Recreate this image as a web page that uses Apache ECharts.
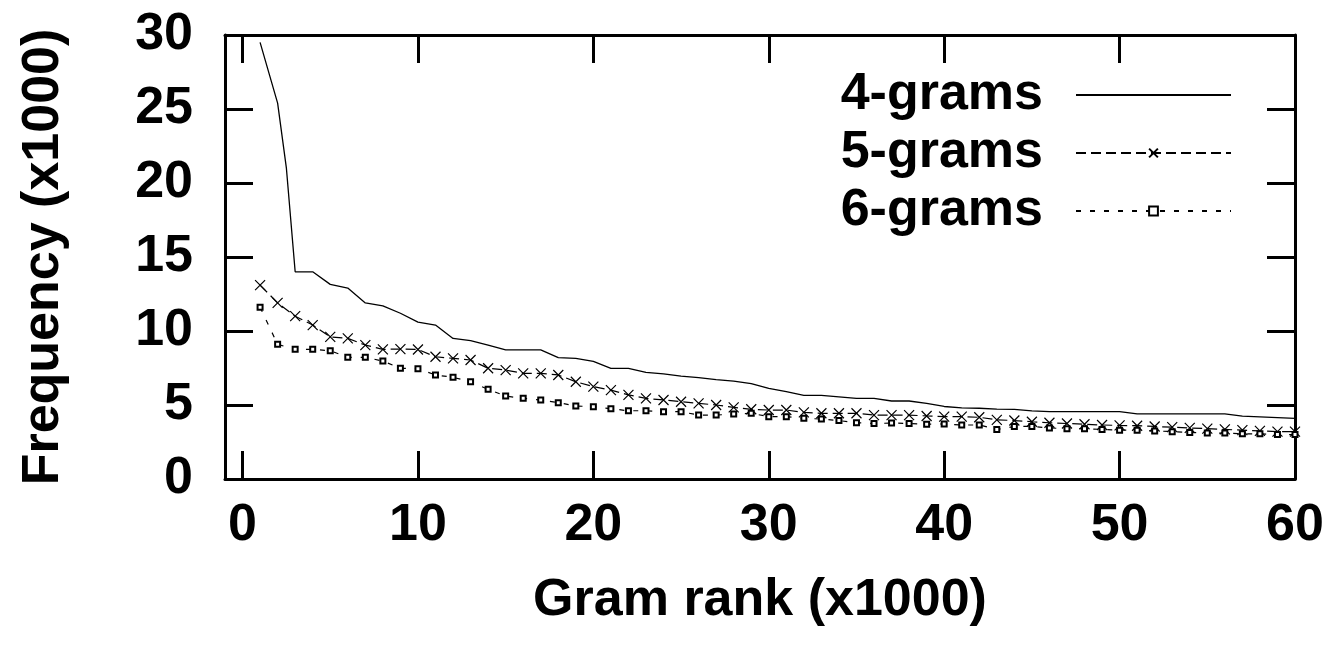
<!DOCTYPE html>
<html>
<head>
<meta charset="utf-8">
<script src="https://cdn.jsdelivr.net/npm/echarts@6/dist/echarts.min.js"></script>
<style>
html,body{margin:0;padding:0;background:#fff;}
#c{width:1335px;height:660px;}
</style>
</head>
<body>
<div id="c"></div>
<script>
// Data (Gram rank in thousands, frequency in thousands)
var seriesNames = ['4-grams', '5-grams', '6-grams'];
var xTicks = [0, 10, 20, 30, 40, 50, 60];
var yTicks = [0, 5, 10, 15, 20, 25, 30];

var rank4 = [1, 2, 2.5, 3, 4, 5, 6, 7, 8, 9, 10, 11, 12, 13, 14, 15, 16, 17, 18, 19, 20,
  21, 22, 23, 24, 25, 26, 27, 28, 29, 30, 31, 32, 33, 34, 35, 36, 37, 38, 39, 40,
  41, 42, 43, 44, 45, 46, 47, 48, 49, 50, 51, 52, 53, 54, 55, 56, 57, 58, 59, 60];
var freq4 = [29.5, 25.4, 21.0, 14.0, 14.0, 13.15, 12.9, 11.9, 11.7, 11.2, 10.6, 10.4, 9.5, 9.35, 9.05, 8.72, 8.72, 8.72, 8.2, 8.15, 7.95,
  7.48, 7.48, 7.2, 7.1, 6.95, 6.85, 6.72, 6.62, 6.45, 6.13, 5.9, 5.65, 5.65, 5.55, 5.45, 5.45, 5.27, 5.27, 5.11, 4.9,
  4.8, 4.78, 4.72, 4.7, 4.6, 4.55, 4.55, 4.55, 4.55, 4.55, 4.4, 4.4, 4.4, 4.4, 4.4, 4.4, 4.25, 4.2, 4.15, 4.1];

var rank56 = [1, 2, 3, 4, 5, 6, 7, 8, 9, 10, 11, 12, 13, 14, 15, 16, 17, 18, 19, 20,
  21, 22, 23, 24, 25, 26, 27, 28, 29, 30, 31, 32, 33, 34, 35, 36, 37, 38, 39, 40,
  41, 42, 43, 44, 45, 46, 47, 48, 49, 50, 51, 52, 53, 54, 55, 56, 57, 58, 59, 60];
var freq5 = [13.1, 11.9, 11.0, 10.4, 9.6, 9.5, 9.05, 8.76, 8.78, 8.75, 8.26, 8.15, 8.04, 7.48, 7.36, 7.14, 7.14, 7.03, 6.57, 6.24,
  6.01, 5.68, 5.45, 5.34, 5.22, 5.11, 5.0, 4.84, 4.71, 4.66, 4.66, 4.5, 4.44, 4.44, 4.44, 4.32, 4.32, 4.32, 4.26, 4.21,
  4.21, 4.17, 4.0, 3.95, 3.87, 3.8, 3.75, 3.7, 3.65, 3.62, 3.6, 3.55, 3.5, 3.45, 3.4, 3.35, 3.3, 3.25, 3.2, 3.2];
var freq6 = [11.6, 9.1, 8.76, 8.76, 8.67, 8.22, 8.22, 7.97, 7.48, 7.45, 7.03, 6.87, 6.57, 6.06, 5.6, 5.45, 5.34, 5.16, 4.93, 4.89,
  4.75, 4.61, 4.61, 4.55, 4.55, 4.32, 4.32, 4.39, 4.44, 4.21, 4.21, 4.1, 4.05, 3.95, 3.8, 3.75, 3.78, 3.75, 3.7, 3.72,
  3.65, 3.65, 3.35, 3.55, 3.55, 3.45, 3.4, 3.4, 3.35, 3.3, 3.3, 3.25, 3.2, 3.15, 3.1, 3.1, 3.05, 3.05, 3.0, 3.0];

function pairs(xs, ys) { return xs.map(function (x, i) { return [x, ys[i]]; }); }

var FONT = "'Liberation Sans', Arial, sans-serif";
var FS = 52;
var axisLine = { show: true, onZero: false, lineStyle: { color: '#000', width: 3 } };
var tickStyle = { lineStyle: { color: '#000', width: 3 } };

var chart = echarts.init(document.getElementById('c'), null, { renderer: 'canvas' });
chart.setOption({
  animation: false,
  backgroundColor: '#fff',
  grid: { left: 225, right: 40, top: 35, bottom: 181, containLabel: false, outerBoundsMode: 'none' },
  legend: {
    orient: 'vertical',
    right: 98,
    top: 61,
    align: 'right',
    itemWidth: 155,
    itemHeight: 11,
    itemGap: 0,
    data: [
      { name: seriesNames[0], itemStyle: { color: 'rgba(0,0,0,0)', borderWidth: 0 } },
      { name: seriesNames[1] },
      { name: seriesNames[2] }
    ],
    textStyle: { fontFamily: FONT, fontSize: FS, fontWeight: 'bold', color: '#000', lineHeight: 58, padding: [0, 28, 0, 0] }
  },
  xAxis: [{
    type: 'value', position: 'bottom', min: -1, max: 60,
    name: 'Gram rank (x1000)', nameLocation: 'middle', nameGap: 96,
    nameTextStyle: { fontFamily: FONT, fontSize: FS, fontWeight: 'bold', color: '#000' },
    axisLine: axisLine,
    axisTick: Object.assign({ show: true, inside: true, length: 28, customValues: xTicks }, tickStyle),
    axisLabel: { customValues: xTicks, margin: 21, fontFamily: FONT, fontSize: FS, fontWeight: 'bold', color: '#000' },
    splitLine: { show: false }
  }, {
    type: 'value', position: 'top', min: -1, max: 60,
    axisLine: axisLine,
    axisTick: Object.assign({ show: true, inside: true, length: 28, customValues: xTicks }, tickStyle),
    axisLabel: { show: false },
    splitLine: { show: false }
  }],
  yAxis: [{
    type: 'value', position: 'left', min: 0, max: 30, interval: 5,
    name: 'Frequency (x1000)', nameLocation: 'middle', nameGap: 155,
    nameTextStyle: { fontFamily: FONT, fontSize: FS, fontWeight: 'bold', color: '#000' },
    axisLine: axisLine,
    axisTick: Object.assign({ show: true, inside: true, length: 28 }, tickStyle),
    axisLabel: { margin: 32, fontFamily: FONT, fontSize: FS, fontWeight: 'bold', color: '#000' },
    splitLine: { show: false }
  }, {
    type: 'value', position: 'right', min: 0, max: 30, interval: 5,
    axisLine: axisLine,
    axisTick: Object.assign({ show: true, inside: true, length: 28 }, tickStyle),
    axisLabel: { show: false },
    splitLine: { show: false }
  }],
  series: [{
    name: seriesNames[0], type: 'line', data: pairs(rank4, freq4),
    showSymbol: false, symbol: 'none',
    lineStyle: { color: '#000', width: 1.3, type: 'solid' },
    itemStyle: { color: '#000' }
  }, {
    name: seriesNames[1], type: 'line', data: pairs(rank56, freq5),
    symbol: 'path://M0,0L10,10M10,0L0,10', symbolSize: 10,
    lineStyle: { color: '#000', width: 1.2, type: [10, 5] },
    itemStyle: { color: '#000', borderColor: '#000', borderWidth: 1.2 }
  }, {
    name: seriesNames[2], type: 'line', data: pairs(rank56, freq6),
    symbol: 'emptyRect', symbolSize: 5,
    lineStyle: { color: '#000', width: 1.2, type: [5, 9] },
    itemStyle: { color: '#000', borderColor: '#000', borderWidth: 1.2 }
  }]
});
</script>
</body>
</html>
